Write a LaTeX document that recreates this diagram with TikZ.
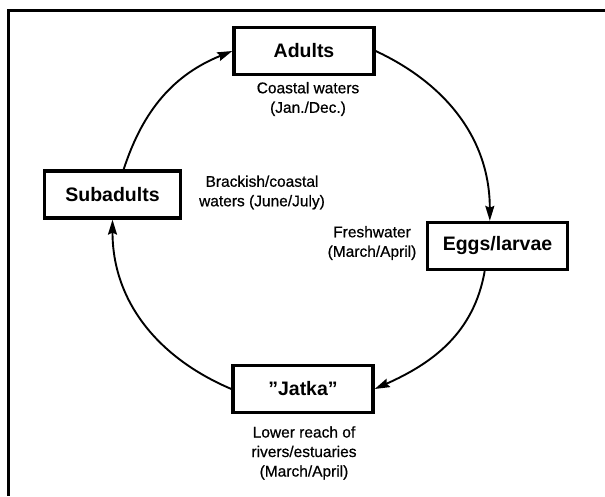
\documentclass[tikz,border=0pt]{standalone}
\usepackage{fontspec}
\setmainfont{Liberation Sans}
\newfontfamily\notefont[FakeBold=0.6]{Liberation Sans}
\usetikzlibrary{arrows.meta}
\tikzset{
  stagebox/.style={draw=black, line width=3.3pt, fill=white, minimum width=140pt, minimum height=47pt,
    font=\fontsize{19.5}{22}\selectfont\bfseries, inner sep=0pt},
  note/.style={align=center, font=\notefont\fontsize{15.5}{19.5}\selectfont, inner sep=0pt},
  flow/.style={line width=1.9pt, -{Stealth[length=15pt,width=9pt,inset=2pt]}},
  framerule/.style={line width=3.2pt}
}
\begin{document}
\begin{tikzpicture}[x=1pt,y=1pt]
\useasboundingbox (0,0) rectangle (605,496);
% frame
\coordinate (ftl) at (8.5,485.5);
\coordinate (ftr) at (605,485.5);
\coordinate (fbl) at (8.5,0);
\draw[framerule] (ftr) -- (ftl) -- (fbl);
% stages
\node[stagebox] (adults) at (304,445) {Adults};
\node[stagebox, minimum width=136pt] (subadults) at (112.5,301.5) {Subadults};
\node[stagebox] (eggs) at (497.5,250) {Eggs/larvae};
\node[stagebox] (jatka) at (303,107) {\symbol{34}Jatka\symbol{34}};
% notes
\node[note] (n1) at (308,397) {Coastal waters\\(Jan./Dec.)};
\node[note] (n2) at (262,303.5) {Brackish/coastal\\waters (June/July)};
\node[note] (n3) at (372,253) {Freshwater\\(March/April)};
\node[note] (n4) at (304,43) {Lower reach of\\rivers/estuaries\\(March/April)};
% cycle
\draw[flow] (adults.east) to[out=-25,in=90] (eggs.107);
\draw[flow] (eggs.-117) to[out=-100,in=24] (jatka.east);
\draw[flow] (jatka.west) to[out=157,in=-90] (subadults.south);
\draw[flow] (subadults.66) to[out=72,in=-158] (adults.west);
\end{tikzpicture}
\end{document}
